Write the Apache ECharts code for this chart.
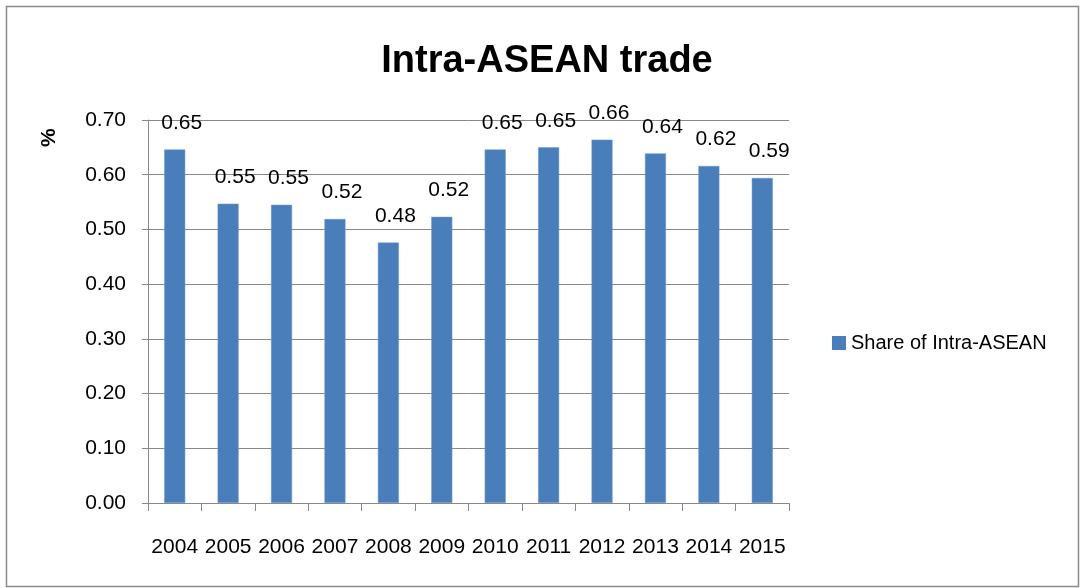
<!DOCTYPE html>
<html>
<head>
<meta charset="utf-8">
<script src="https://cdn.jsdelivr.net/npm/echarts@6/dist/echarts.min.js"></script>
<style>
  html, body { margin: 0; padding: 0; background: #fff; }
  #chart { width: 1081px; height: 588px; }
</style>
</head>
<body>
<div id="chart"></div>
<script>
// data
const years = ["2004", "2005", "2006", "2007", "2008", "2009", "2010", "2011", "2012", "2013", "2014", "2015"];
const shareValues = [0.646, 0.547, 0.545, 0.519, 0.476, 0.523, 0.646, 0.650, 0.664, 0.639, 0.616, 0.594];
const yTicks = [0, 0.1, 0.2, 0.3, 0.4, 0.5, 0.6, 0.7];

const chart = echarts.init(document.getElementById("chart"));
const font = "Liberation Sans";

const option = {
  backgroundColor: "#fff",
  animation: false,
  title: {
    text: "Intra-ASEAN trade",
    left: 542,
    textAlign: "center",
    top: 38,
    textStyle: { fontFamily: font, fontSize: 38, fontWeight: "bold", color: "#000" },
  },
  graphic: [
    {
      type: "rect",
      shape: { x: 6.5, y: 6.5, width: 1072, height: 580 },
      style: { fill: null, stroke: "#8c8c8c", lineWidth: 1.5 },
      silent: true,
    },
    {
      // y axis title, rotated
      type: "text",
      x: 39,
      y: 147,
      rotation: Math.PI / 2,
      style: { text: "%", font: "bold 21px " + font, fill: "#000" },
    },
  ],
  legend: {
    orient: "vertical",
    left: 827,
    top: 328,
    itemWidth: 14,
    itemHeight: 14,
    itemGap: 6,
    icon: "rect",
    itemStyle: { borderWidth: 0 },
    textStyle: { fontFamily: font, fontSize: 20, color: "#000" },
  },
  grid: { left: 148, right: 292, top: 120, bottom: 85 },
  xAxis: {
    type: "category",
    data: years,
    axisLine: { lineStyle: { color: "#888", width: 1 } },
    axisTick: { show: true, alignWithLabel: false, length: 8, inside: false, lineStyle: { color: "#888" } },
    axisLabel: { fontFamily: font, fontSize: 21, color: "#000", margin: 34, interval: 0 },
  },
  yAxis: {
    type: "value",
    min: 0,
    max: 0.7,
    interval: 0.1,
    axisLine: { show: true, lineStyle: { color: "#888", width: 1 } },
    axisTick: { show: true, length: 6, lineStyle: { color: "#888" } },
    splitLine: { lineStyle: { color: "#888", width: 1 } },
    axisLabel: {
      fontFamily: font,
      fontSize: 21,
      color: "#000",
      margin: 22,
      formatter: (v) => {
        const t = yTicks.find((x) => Math.abs(x - v) < 1e-6);
        return (t !== undefined ? t : v).toFixed(2);
      },
    },
  },
  series: [
    {
      name: "Share of Intra-ASEAN",
      type: "bar",
      data: shareValues,
      barWidth: 21,
      itemStyle: { color: "#4a7ebb", borderColor: "#6f96c9", borderWidth: 0.5 },
      label: {
        show: true,
        position: "top",
        distance: 16,
        offset: [7, 0],
        fontFamily: font,
        fontSize: 21,
        color: "#000",
        formatter: (p) => p.value.toFixed(2),
      },
    },
  ],
};

chart.setOption(option);
</script>
</body>
</html>
